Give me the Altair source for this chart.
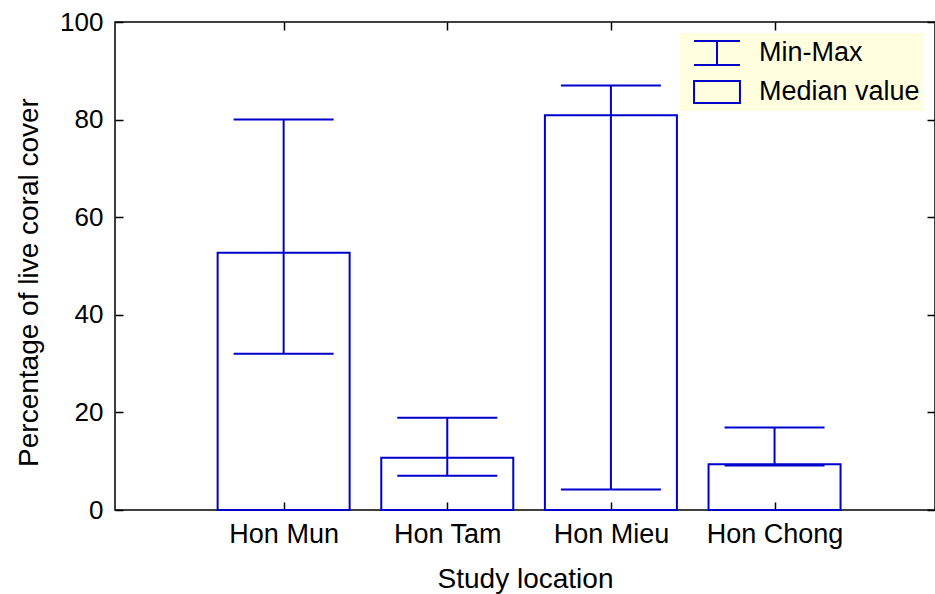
import altair as alt
import pandas as pd

locations = ["Hon Mun", "Hon Tam", "Hon Mieu", "Hon Chong"]
median_value = [52.7, 10.7, 80.9, 9.4]
min_value = [32.0, 7.0, 4.2, 9.1]
max_value = [80.0, 18.9, 87.0, 16.9]
y_ticks = [0, 20, 40, 60, 80, 100]
legend_labels = ["Min-Max", "Median value"]

BLUE = "#0000cc"
FONT = "Liberation Sans"

df = pd.DataFrame({
    "location": locations,
    "pos": list(range(1, len(locations) + 1)),
    "median": median_value,
    "min": min_value,
    "max": max_value,
})
legend_df = pd.DataFrame({"item": legend_labels})

names_js = "[''," + ",".join("'" + n + "'" for n in locations) + "]"

xscale = alt.Scale(domain=[0, 4.95], nice=False, zero=False)
yscale = alt.Scale(domain=[0, 100], nice=False)

# ticks drawn inward: axis moved inside by 8px, ticks of 8px reach the frame
x_bottom = alt.Axis(orient="bottom", values=[1, 2, 3, 4], labelExpr=names_js + "[datum.value]",
                    title="Study location", grid=False, domain=False, offset=-8, tickSize=8,
                    labelPadding=11, labelFontSize=27, titlePadding=18)
x_top = alt.Axis(orient="top", values=[1, 2, 3, 4], labels=False, title=None, grid=False,
                 domain=False, offset=-8, tickSize=8)
y_left = alt.Axis(orient="left", values=y_ticks, title="Percentage of live coral cover",
                  grid=False, domain=False, offset=-8, tickSize=8, labelPadding=12,
                  titlePadding=16, titleY=260)
y_right = alt.Axis(orient="right", values=y_ticks, labels=False, title=None, grid=False,
                   domain=False, offset=-8, tickSize=8)

base = alt.Chart(df)

bars = base.mark_bar(size=132, fillOpacity=0, stroke=BLUE, strokeWidth=2).encode(
    x=alt.X("pos:Q", scale=xscale, axis=x_bottom),
    y=alt.Y("median:Q", scale=yscale, axis=y_left),
)

whisk = base.mark_rule(color=BLUE, strokeWidth=2).encode(
    x=alt.X("pos:Q", scale=xscale, axis=x_top),
    y=alt.Y("min:Q", scale=yscale, axis=y_right),
    y2="max:Q",
)

cap_max = base.mark_rule(color=BLUE, strokeWidth=2, xOffset=-50, x2Offset=50).encode(
    x=alt.X("pos:Q", scale=xscale, axis=None),
    x2="pos:Q",
    y=alt.Y("max:Q", scale=yscale, axis=None),
)
cap_min = base.mark_rule(color=BLUE, strokeWidth=2, xOffset=-50, x2Offset=50).encode(
    x=alt.X("pos:Q", scale=xscale, axis=None),
    x2="pos:Q",
    y=alt.Y("min:Q", scale=yscale, axis=None),
)

errbar_path = "M-1.53,-0.8H1.53M0,-0.8V0.8M-1.53,0.8H1.53"
box_path = "M-1.53,-0.73H1.53V0.73H-1.53Z"

legend_layer = alt.Chart(legend_df).mark_point(opacity=0, filled=False, color=BLUE, size=900).encode(
    shape=alt.Shape("item:N",
                    scale=alt.Scale(domain=legend_labels, range=[errbar_path, box_path]),
                    legend=alt.Legend(title=None, orient="none", legendX=565, legendY=11,
                                      fillColor="#FFFFE0", padding=4, rowPadding=7,
                                      symbolOpacity=1, symbolStrokeColor=BLUE,
                                      symbolStrokeWidth=2, symbolFillColor="transparent",
                                      symbolSize=900, symbolOffset=17, labelOffset=26,
                                      labelLimit=400,
                                      labelFont=FONT, labelFontSize=27, labelColor="black"))
)

chart = alt.layer(bars, whisk, cap_max, cap_min, legend_layer).properties(
    width=820, height=488,
    autosize=alt.AutoSizeParams(type="none"),
    padding={"left": 115, "top": 22, "right": 0, "bottom": 84},
).configure_view(stroke="black", strokeWidth=1.5).configure_axis(
    tickColor="black", tickWidth=1.5,
    labelFont=FONT, labelFontSize=26, labelColor="black",
    titleFont=FONT, titleFontSize=28, titleColor="black", titleFontWeight="normal",
)

chart.save("out.html", embed_options={"renderer": "svg", "actions": False})
